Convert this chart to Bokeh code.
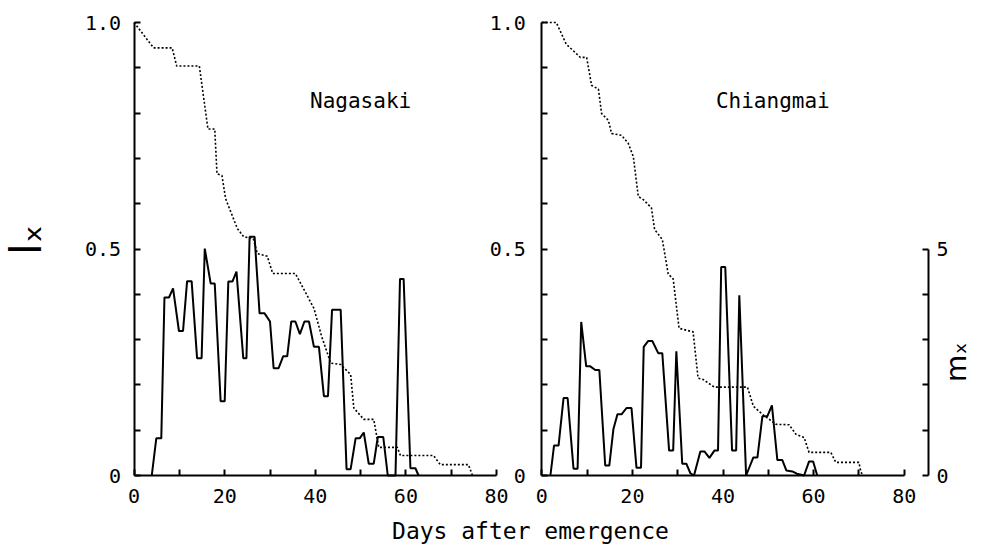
import math
from bokeh.plotting import figure
from bokeh.models import Range1d, LinearAxis, FixedTicker, Label
from bokeh.embed import file_html
from bokeh.resources import INLINE

# ---------------- data ----------------
# Nagasaki: survivorship l_x (dotted) and fecundity m_x (solid)
nag_lx_days = [0, 4.3, 8.4, 9.4, 14.4, 16.3, 17.8, 18.3, 19.4, 20.2, 22.8, 24.2, 26.3,
               27.2, 29.4, 30.6, 35.6, 39.7, 41.4, 43.4, 45.6, 47.8, 48.5, 50.7, 52.9,
               54.0, 58.1, 58.8, 66.1, 67.6, 73.8, 74.7]
nag_lx = [1.0, 0.944, 0.944, 0.904, 0.904, 0.765, 0.765, 0.666, 0.662, 0.611, 0.545, 0.527,
          0.523, 0.49, 0.484, 0.446, 0.446, 0.369, 0.307, 0.248, 0.245, 0.223, 0.149, 0.124,
          0.124, 0.062, 0.062, 0.044, 0.044, 0.024, 0.024, 0.0]
nag_mx_days = [3.9, 4.9, 6.0, 6.7, 7.7, 8.6, 9.9, 10.8, 11.7, 12.7, 13.9, 14.9, 15.6, 16.9,
               17.8, 19.1, 20.0, 20.8, 21.7, 22.6, 24.1, 24.8, 25.5, 26.6, 27.7, 28.8, 30.0,
               30.8, 31.9, 32.9, 33.8, 34.7, 35.6, 36.6, 37.6, 38.6, 39.7, 40.8, 41.9, 42.8,
               43.7, 45.6, 46.9, 47.8, 48.9, 49.8, 50.7, 51.8, 52.9, 53.8, 55.0, 56.0, 57.7,
               58.7, 59.5, 61.0, 62.1, 62.8]
nag_mx = [0, 0.82, 0.82, 3.93, 3.93, 4.13, 3.19, 3.19, 4.29, 4.29, 2.59, 2.59, 5.01, 4.24,
          4.24, 1.64, 1.64, 4.28, 4.28, 4.5, 2.59, 2.59, 5.27, 5.27, 3.58, 3.58, 3.40,
          2.37, 2.37, 2.63, 2.63, 3.40, 3.40, 3.12, 3.40, 3.40, 2.84, 2.84, 1.75, 1.75,
          3.66, 3.66, 0.14, 0.14, 0.82, 0.82, 0.95, 0.26, 0.26, 0.85, 0.85, 0, 0,
          4.34, 4.34, 0.16, 0.16, 0.0]

# Chiangmai
chi_lx_days = [0, 3.2, 5.4, 6.6, 8.5, 9.9, 11.0, 12.5, 13.2, 14.7, 15.4, 17.6, 19.1, 20.2,
               21.3, 22.4, 24.2, 24.9, 26.6, 27.1, 27.9, 29.0, 30.3, 33.4, 34.5, 35.6, 38.1,
               45.4, 46.7, 48.7, 51.7, 54.6, 56.1, 57.9, 59.0, 63.8, 64.9, 70.0, 70.4, 70.8]
chi_lx = [1.0, 1.0, 0.952, 0.941, 0.923, 0.923, 0.861, 0.853, 0.799, 0.784, 0.755, 0.751,
          0.733, 0.704, 0.616, 0.609, 0.591, 0.543, 0.521, 0.492, 0.445, 0.434, 0.325,
          0.317, 0.215, 0.212, 0.195, 0.195, 0.153, 0.135, 0.113, 0.112, 0.091, 0.084,
          0.051, 0.051, 0.029, 0.029, 0.01, 0.0]
chi_mx_days = [1.9, 2.7, 3.7, 4.8, 5.7, 7.0, 7.9, 8.7, 9.8, 10.7, 11.8, 12.7, 14.0, 14.9,
               15.8, 16.7, 17.6, 18.7, 19.8, 20.9, 21.9, 22.5, 23.5, 24.4, 25.7, 26.6, 28.1,
               29.0, 29.7, 31.0, 31.9, 32.8, 33.6, 35.0, 35.9, 37.0, 38.1, 38.9, 39.6, 40.5,
               42.0, 42.9, 43.6, 45.1, 46.7, 47.6, 48.7, 49.8, 50.8, 52.0, 53.1, 54.0, 55.3,
               56.3, 57.9, 59.0, 59.9, 60.8]
chi_mx = [0, 0.66, 0.66, 1.71, 1.71, 0.15, 0.15, 3.39, 2.41, 2.41, 2.33, 2.33, 0.22, 0.22,
          1.02, 1.35, 1.35, 1.49, 1.49, 0.17, 0.17, 2.84, 2.97, 2.97, 2.70, 2.70, 0.55,
          0.55, 2.74, 0.26, 0.26, 0.05, 0.0, 0.53, 0.53, 0.39, 0.55, 0.55, 4.6, 4.6,
          0.55, 0.55, 3.98, 0.0, 0.40, 0.40, 1.31, 1.31, 1.55, 0.34, 0.34, 0.11, 0.09,
          0.04, 0.0, 0.31, 0.31, 0.0]

x_ticks = [0, 20, 40, 60, 80]
x_minor = [10, 30, 50, 70]
lx_ticks = [0, 0.5, 1.0]
lx_minor = [0.1, 0.2, 0.3, 0.4, 0.6, 0.7, 0.8, 0.9]
lx_labels = {0: "0", 1: "1.0"}
mx_ticks = [0, 5]
mx_minor = [1, 2, 3, 4]

MONO = "DejaVu Sans Mono"
SANS = "DejaVu Sans"

# layout (all in the left panel's day / l_x coordinates)
PX_DAY = 4.53        # pixels per day
PX_LX = 453.0        # pixels per unit of l_x
X0_PX, Y0_PX = 133.6, 475.0   # canvas position of day 0 / l_x 0
W, H = 990, 548
PANEL_GAP = 90       # right panel origin
MX_AXIS_AT = (928 - X0_PX) / PX_DAY

X_LO = -X0_PX / PX_DAY
X_HI = (W - X0_PX) / PX_DAY
Y_LO = -(H - Y0_PX) / PX_LX
Y_HI = Y0_PX / PX_LX

p = figure(width=W, height=H,
           x_range=Range1d(X_LO, X_HI), y_range=Range1d(Y_LO, Y_HI),
           x_axis_type=None, y_axis_type=None,
           output_backend="svg", toolbar_location=None,
           min_border_left=0, min_border_right=0,
           min_border_top=0, min_border_bottom=0)
p.outline_line_color = None
p.background_fill_color = "white"
p.border_fill_color = "white"
p.extra_x_ranges = {"r": Range1d(X_LO - PANEL_GAP, X_HI - PANEL_GAP)}
p.extra_y_ranges = {"mx": Range1d(Y_LO * 10, Y_HI * 10)}


def style(ax, tick_len=6):
    ax.axis_line_width = 2
    ax.axis_line_color = "black"
    ax.major_tick_in = tick_len
    ax.major_tick_out = 0
    ax.minor_tick_in = tick_len
    ax.minor_tick_out = 0
    ax.major_tick_line_width = 2
    ax.minor_tick_line_width = 2
    ax.major_tick_line_color = "black"
    ax.minor_tick_line_color = "black"
    ax.major_label_text_font = MONO
    ax.major_label_text_font_size = "20px"
    ax.major_label_text_color = "black"


# left panel axes
lx_left = LinearAxis(ticker=FixedTicker(ticks=lx_ticks, minor_ticks=lx_minor),
                     bounds=(0, 1), fixed_location=0)
style(lx_left)
lx_left.major_label_overrides = lx_labels
lx_left.major_label_standoff = 13
p.add_layout(lx_left, "left")

x_left = LinearAxis(ticker=FixedTicker(ticks=x_ticks, minor_ticks=x_minor),
                    bounds=(0, 80), fixed_location=0)
style(x_left)
x_left.major_label_standoff = 13
p.add_layout(x_left, "below")

# right panel axes
lx_right = LinearAxis(ticker=FixedTicker(ticks=lx_ticks, minor_ticks=lx_minor),
                      bounds=(0, 1), fixed_location=PANEL_GAP)
style(lx_right)
lx_right.major_label_overrides = lx_labels
lx_right.major_label_standoff = 16
p.add_layout(lx_right, "left")

x_right = LinearAxis(ticker=FixedTicker(ticks=x_ticks, minor_ticks=x_minor),
                     x_range_name="r", bounds=(0, 80), fixed_location=0)
style(x_right)
x_right.major_label_standoff = 13
p.add_layout(x_right, "below")

mx_ax = LinearAxis(ticker=FixedTicker(ticks=mx_ticks, minor_ticks=mx_minor),
                   y_range_name="mx", bounds=(0, 5), fixed_location=MX_AXIS_AT)
style(mx_ax)
mx_ax.major_label_standoff = 8
p.add_layout(mx_ax, "right")

# data lines
p.line(nag_lx_days, nag_lx, line_color="black", line_width=1.6, line_dash="2 2")
p.line(nag_mx_days, nag_mx, y_range_name="mx", line_color="black", line_width=2)
p.line(chi_lx_days, chi_lx, x_range_name="r", line_color="black", line_width=1.6,
       line_dash="2 2")
p.line(chi_mx_days, chi_mx, x_range_name="r", y_range_name="mx", line_color="black",
       line_width=2)

# texts
p.add_layout(Label(x=50, y=0.826, text="Nagasaki", text_align="center",
                   text_baseline="middle", text_font=MONO, text_font_size="21px",
                   text_color="black"))
p.add_layout(Label(x=51, y=0.826, x_range_name="r", text="Chiangmai", text_align="center",
                   text_baseline="middle", text_font=MONO, text_font_size="21px",
                   text_color="black"))
p.add_layout(Label(x=(26 - X0_PX) / PX_DAY, y=0.52, angle=math.pi / 2, text="lₓ",
                   text_align="center", text_baseline="alphabetic",
                   text_font=SANS, text_font_size="42px", text_color="black"))
p.add_layout(Label(x=(956 - X0_PX) / PX_DAY, y=0.25, angle=math.pi / 2, text="mₓ",
                   text_align="center", text_baseline="alphabetic",
                   text_font=SANS, text_font_size="28px", text_color="black"))
p.add_layout(Label(x=(530 - X0_PX) / PX_DAY, y=-(530 - Y0_PX) / PX_LX,
                   text="Days after emergence", text_align="center",
                   text_baseline="middle", text_font=MONO, text_font_size="23px",
                   text_color="black"))

open("out.html", "w").write(file_html(p, INLINE))
